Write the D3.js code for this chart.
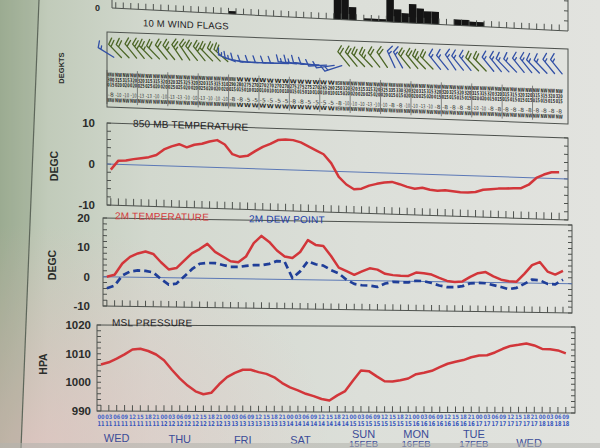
<!DOCTYPE html>
<html><head><meta charset="utf-8">
<script src="https://cdn.jsdelivr.net/npm/d3@7"></script>
<style>body{margin:0;overflow:hidden;background:#dde1da}svg{display:block}</style>
</head><body><svg id="c" width="600" height="448"></svg>
<script>
// ---------------- DATA ----------------
const hours = d3.range(0, 180, 3);           // forecast hours, 3-hourly
const dayNames = ["WED","THU","FRI","SAT","SUN","MON","TUE","WED"];
const dayDates = ["","","","","15FEB","16FEB","17FEB",""];
const dayLabelHours = [6,30,54,76,100,120,142,163];
const startDay = 11;

const precip = [0,0,0,0,0,0,0,0,0,0, 0,0,0,0,0,0.6,0,0,0,0, 0,0,0,0,0,0,0,0,0,6,
                6,2.6,0,0.5,0.5,0.5,6,2.6,1.9,3.8, 3,2.5,2.5,0,0,1.2,1.2,0.9,0.9,0, 0,0,0,0,0,0,0,0,0,0];
const precipTicks = [0];

const windDir = [300,315,315,320,320,315,315,320,320,325,325,320,320,315,315,310,
                 290,280,275,270,270,270,270,270,275,275,275,270,265,260,250,
                 320,320,315,315,320,325,335,330,
                 320,320,315,315,320,320,325,320,320,315,315,320,320,315,315,320,320,315,315,320,320];
const windSpd = [15,20,20,20,25,25,20,20,25,25,20,20,25,20,20,20,
                 15,15,10,10,10,10,10,10,15,15,10,10,10,10,15,
                 20,20,20,25,20,20,15,15,
                 20,20,25,20,15,15,15,15,15,20,20,15,15,15,15,15,15,15,15,15,15];

const t850 = [-1.35,0.9,1.0,1.4,1.7,2.0,2.6,4.0,4.8,5.4, 4.7,5.4,5.7,6.3,6.7,5.7,3.4,2.8,3.1,4.3,
              5.4,6.2,7.2,7.4,7.3,6.8,5.9,5.0,4.1,2.0, -1.3,-3.1,-4.2,-4.0,-3.2,-2.7,-2.3,-2.1,-2.6,-3.2,
              -3.6,-3.3,-3.7,-3.9,-3.7,-3.9,-4.1,-4.1,-3.9,-3.3, -3.1,-2.9,-2.8,-2.7,-2.6,-1.7,0.0,0.9,1.5,1.6];
const t850Ticks = [-10,0,10];

const t2m = [0,0.7,4.6,6.9,8.1,8.8,8.0,5.2,2.8,3.3, 5.9,8.4,9.9,11.7,9.0,7.5,5.9,5.6,7.6,12.2,
             14.7,12.7,9.8,7.8,7.3,9.4,13.5,11.9,11.6,8.2, 4.3,3.1,1.9,3.1,4.2,3.8,2.4,2.0,1.8,1.8,
             3.0,2.8,2.4,1.3,0.3,0.0,0.2,1.8,3.1,3.5, 2.1,1.0,0.5,0.4,3.1,6.1,7.2,4.0,3.0,4.3];
const td2m = [-3.9,-3.0,0.5,1.9,2.3,2.2,1.7,-0.5,-2.4,-2.0, 0.5,3.0,4.9,5.2,5.2,4.6,4.0,4.0,4.4,4.7,
              4.7,5.2,6.2,6.0,0.5,2.8,6.3,5.3,4.9,3.4, 2.3,0.2,-1.2,-1.6,-1.7,-2.1,-0.9,-0.3,-0.4,-0.4,
              0.2,0.1,-0.5,-1.3,-1.8,-1.8,-1.4,-0.4,-0.2,-0.3, -0.9,-1.5,-2.2,-1.7,-0.3,1.2,1.0,-0.2,-0.3,1.3];
const t2mTicks = [-10,0,10,20];

const msl = [1006.2,1007,1008.3,1009.8,1011.5,1011.8,1011,1009.8,1007.8,1004.5,
             1001.5,999,997,996,996.5,999.5,1002,1003.5,1004.6,1004.6,
             1003.8,1003.2,1002,1000,998.5,997.5,996.3,995.5,994.5,994,
             995.8,997.3,1001,1004.5,1004.3,1002.5,1000.8,1000.7,1001.2,1001.8,
             1003.3,1003.8,1004.5,1005.8,1007,1007.7,1008.3,1009.3,1009.9,1010,
             1011,1012.3,1013.3,1013.7,1014.2,1013.5,1012.3,1012.2,1011.8,1010.8];
const mslTicks = [990,1000,1010,1020];

// ---------------- DRAW ----------------
const svg = d3.select("#c");
const defs = svg.append("defs");
const lg = defs.append("linearGradient").attr("id","bg").attr("x1",0).attr("x2",1).attr("y1",0).attr("y2",0);
[[0,"#a9b79f"],[0.08,"#c1cbba"],[0.25,"#d2d8ce"],[0.6,"#dcdfd9"],[1,"#e2e3df"]]
  .forEach(s=>lg.append("stop").attr("offset",s[0]).attr("stop-color",s[1]));
const rg = defs.append("radialGradient").attr("id","pink").attr("cx",0.05).attr("cy",1).attr("r",0.5);
rg.append("stop").attr("offset",0).attr("stop-color","#e8c4c4").attr("stop-opacity",0.7);
rg.append("stop").attr("offset",1).attr("stop-color","#e8c4c4").attr("stop-opacity",0);
svg.append("rect").attr("width",600).attr("height",448).attr("fill","url(#bg)");
svg.append("rect").attr("width",600).attr("height",448).attr("fill","url(#pink)");
svg.append("path").attr("d","M0,0L39,0L21,448L0,448Z").attr("fill","#5a6e4c").attr("opacity",0.16);
svg.append("line").attr("x1",39).attr("y1",0).attr("x2",21).attr("y2",448).attr("stroke","#5d665a").attr("stroke-width",1.2);

const FONT = "'Liberation Sans', Arial, sans-serif";
const COND = "'DejaVu Sans Condensed', 'DejaVu Sans', sans-serif";
const frameCol = "#4e524e";
const red = "#d2363a", zeroCol = "#5b78b6";
const domainT = [-1.5, 180.5];

function makePanel(p){
  const ang = Math.atan(p.tilt / p.w) * 180 / Math.PI;
  const g = svg.append("g").attr("transform", `translate(${p.x},${p.y}) skewY(${ang})`);
  const x = d3.scaleLinear().domain(domainT).range([0, p.w]);
  return {g, x, p};
}
function timeTicks(P, y0, len){
  P.g.append("g").selectAll("line").data(hours).join("line")
    .attr("x1", d=>P.x(d)).attr("x2", d=>P.x(d))
    .attr("y1", y0).attr("y2", y0-len)
    .attr("stroke", frameCol).attr("stroke-width",1);
}
function frame(P){
  P.g.append("rect").attr("width",P.p.w).attr("height",P.p.h)
    .attr("fill","none").attr("stroke",frameCol).attr("stroke-width",1);
}
function sideTicks(P, y, step){
  const [a,b] = y.domain();
  const vals = d3.range(a, b+1e-6, step);
  const gg = P.g.append("g");
  gg.selectAll("l1").data(vals).join("line").attr("x1",0).attr("x2",4)
    .attr("y1",d=>y(d)).attr("y2",d=>y(d)).attr("stroke",frameCol);
  gg.selectAll("l2").data(vals).join("line").attr("x1",P.p.w).attr("x2",P.p.w-4)
    .attr("y1",d=>y(d)).attr("y2",d=>y(d)).attr("stroke",frameCol);
}
function yLabels(P, y, ticks, xr, fs){
  svg.append("g").selectAll("text").data(ticks).join("text")
    .attr("x", xr).attr("y", d=>P.p.y + y(d)).attr("dy","0.35em")
    .attr("text-anchor","end").attr("font-family",FONT).attr("font-weight","bold")
    .attr("font-size",fs).attr("fill","#2b2d2b").text(d=>d);
}
function vTitle(txt, x, y, fs){
  svg.append("text").attr("transform",`translate(${x},${y}) rotate(-90)`)
    .attr("text-anchor","middle").attr("dy","0.35em").attr("font-family",FONT)
    .attr("font-weight","bold").attr("font-size",fs).attr("fill","#2b2d2b").text(txt);
}
function title(P, txt, x, y, col, fs){
  P.g.append("text").attr("x",x).attr("y",y).attr("font-family",FONT)
    .attr("font-size",fs).attr("fill",col).attr("letter-spacing",0.2).text(txt);
}
function cellRow(g, P, y, fs, weight, col, fn, w){
  g.append("g").selectAll("text").data(hours).join("text")
    .attr("x", d=>P.x(d)-w/2).attr("y", y)
    .attr("font-family",COND).attr("font-size",fs).attr("font-weight",weight)
    .attr("textLength", w).attr("lengthAdjust","spacingAndGlyphs")
    .attr("fill", col).text((d,i)=>fn(d,i));
}

// ---- Panel A: precipitation bars (top, mostly off-page)
const A = makePanel({x:112, y:8, w:456, h:40, tilt:23});
const yA = d3.scaleLinear().domain([0, 8]).range([0, -40]);
A.g.append("g").selectAll("rect").data(hours.map((h,i)=>({h, v:precip[i]})).filter(d=>d.v>0)).join("rect")
  .attr("x", d=>A.x(d.h)).attr("width", d=>A.x(d.h+3)-A.x(d.h))
  .attr("y", d=>yA(d.v)).attr("height", d=>-yA(d.v)).attr("fill","#141414");
A.g.append("line").attr("x1",0).attr("x2",A.p.w).attr("y1",0).attr("y2",0).attr("stroke",frameCol);
A.g.append("line").attr("x1",A.p.w).attr("x2",A.p.w).attr("y1",0).attr("y2",-40).attr("stroke",frameCol);
A.g.append("line").attr("x1",0).attr("x2",0).attr("y1",0).attr("y2",-40).attr("stroke",frameCol);
timeTicks(A, 0, 6);
A.g.selectAll("rt").data([2,4,6]).join("line").attr("x1",A.p.w).attr("x2",A.p.w-4)
  .attr("y1",d=>yA(d)).attr("y2",d=>yA(d)).attr("stroke",frameCol);
svg.append("text").attr("x",100).attr("y",8).attr("dy","0.35em").attr("text-anchor","end")
  .attr("font-family",FONT).attr("font-weight","bold").attr("font-size",9).attr("fill","#2b2d2b").text(precipTicks[0]);

// ---- Panel B: wind flags
const B = makePanel({x:107, y:32, w:461, h:75, tilt:17});
frame(B);
title(B, "10 M  WIND FLAGS", 36, -7, "#1e201e", 9.5);
vTitle("DEGKTS", 61, 68, 7.5);
function compass(d){ const n=["N","NNE","NE","ENE","E","ESE","SE","SSE","S","SSW","SW","WSW","W","WNW","NW","NNW"]; return n[Math.round(d/22.5)%16]; }
const green = "#4c6626", barbBlue = "#3250a6";
hours.forEach((h,i)=>{
  const x0 = B.x(h)+3, y0 = 25, L = 18;
  const r = windDir[i]*Math.PI/180, ux = Math.sin(r), uy = -Math.cos(r);
  const tx = x0+ux*L, ty = y0+uy*L;
  const th = 70*Math.PI/180;
  const fx = ux*Math.cos(th)-uy*Math.sin(th), fy = ux*Math.sin(th)+uy*Math.cos(th);
  let d = `M${x0},${y0}L${tx},${ty}`;
  const n10 = Math.floor(windSpd[i]/10), n5 = Math.round((windSpd[i]%10)/5);
  let pos = 0;
  for(let k=0;k<n10;k++){ d += `M${tx-ux*pos},${ty-uy*pos}l${fx*7},${fy*7}`; pos += 3.2; }
  if(n5){ d += `M${tx-ux*pos},${ty-uy*pos}l${fx*3.6},${fy*3.6}`; }
  B.g.append("path").attr("d",d).attr("fill","none").attr("stroke-linecap","round")
    .attr("stroke", windSpd[i]>=20 ? green : barbBlue).attr("stroke-width",1.3);
});
const gB = B.g.append("g");
cellRow(gB, B, 44.5, 5.6, "bold", "#262826", (d,i)=>compass(windDir[i]), 7);
cellRow(gB, B, 49.5, 5.6, "bold", "#262826", (d,i)=>String(windDir[i]), 7);
cellRow(gB, B, 54.5, 5.6, "bold", "#262826", (d,i)=>String(windSpd[i]).padStart(3,"0"), 7);
cellRow(gB, B, 64.5, 5.4, "normal", "#3a3c3a", (d,i)=>"-"+Math.round(windSpd[i]*0.514), 6);
cellRow(gB, B, 70, 5.6, "bold", "#2c2e2c", (d,i)=>compass(windDir[i]), 7);
B.g.append("g").selectAll("line").data(hours.filter(h=>h%12===0)).join("line")
  .attr("x1",d=>B.x(d)-3.8).attr("x2",d=>B.x(d)-3.8).attr("y1",38).attr("y2",72)
  .attr("stroke","#444").attr("stroke-width",0.6);

// ---- Panel C: 850 MB temperature
const C = makePanel({x:107, y:123, w:461, h:82, tilt:15});
const yC = d3.scaleLinear().domain([-10,10]).range([C.p.h, 0]);
frame(C); sideTicks(C, yC, 2); timeTicks(C, C.p.h, 7);
C.g.append("line").attr("x1",0).attr("x2",C.p.w).attr("y1",yC(0)).attr("y2",yC(0)).attr("stroke",zeroCol).attr("stroke-width",1);
C.g.append("path").datum(t850).attr("fill","none").attr("stroke",red).attr("stroke-width",2.5)
  .attr("stroke-linejoin","round")
  .attr("d", d3.line().x((d,i)=>C.x(hours[i])).y(d=>yC(d)));
title(C, "850 MB  TEMPERATURE", 26, 3, "#1e201e", 10);
yLabels(C, yC, t850Ticks, 95, 11.5);
vTitle("DEGC", 54, 166, 10.5);

// ---- Panel D: 2m temperature & dew point
const D = makePanel({x:103, y:218, w:469, h:88, tilt:7});
const yD = d3.scaleLinear().domain([-10,20]).range([D.p.h, 0]);
frame(D); sideTicks(D, yD, 2); timeTicks(D, D.p.h, 6);
D.g.append("line").attr("x1",0).attr("x2",D.p.w).attr("y1",yD(0)).attr("y2",yD(0)).attr("stroke",zeroCol).attr("stroke-width",1);
D.g.append("path").datum(td2m).attr("fill","none").attr("stroke","#1f3e98").attr("stroke-width",2.7)
  .attr("stroke-dasharray","7,4").attr("stroke-linejoin","round")
  .attr("d", d3.line().x((d,i)=>D.x(hours[i])).y(d=>yD(d)));
D.g.append("path").datum(t2m).attr("fill","none").attr("stroke",red).attr("stroke-width",2.5)
  .attr("stroke-linejoin","round")
  .attr("d", d3.line().x((d,i)=>D.x(hours[i])).y(d=>yD(d)));
title(D, "2M TEMPERATURE", 12, 1, "#d23a3c", 10);
title(D, "2M  DEW POINT", 146, 2, "#2140a8", 10);
yLabels(D, yD, t2mTicks, 90, 11.5);
vTitle("DEGC", 52, 265, 10.5);

// ---- Panel E: MSL pressure
const E = makePanel({x:97, y:325, w:478, h:86, tilt:2});
const yE = d3.scaleLinear().domain([990,1020]).range([E.p.h, 0]);
frame(E); sideTicks(E, yE, 2); timeTicks(E, E.p.h, 6);
E.g.append("path").datum(msl).attr("fill","none").attr("stroke",red).attr("stroke-width",2.5)
  .attr("stroke-linejoin","round")
  .attr("d", d3.line().x((d,i)=>E.x(hours[i])).y(d=>yE(d)));
title(E, "MSL PRESSURE", 15, 1, "#1e201e", 10);
yLabels(E, yE, mslTicks, 91, 11.5);
vTitle("HPA", 43, 364, 10.5);

// ---- time labels under panel E
const pad2 = n => String(n).padStart(2,"0");
const bt = svg.append("g").attr("transform",`translate(${E.p.x},0)`);
const Eflat = {x:E.x};
cellRow(bt, Eflat, 418.5, 6, "bold", "#4866c8", d=>pad2(d%24), 7);
cellRow(bt, Eflat, 425.5, 6.6, "bold", "#3656bc", d=>pad2(startDay+Math.floor(d/24)), 7);
const dl = svg.append("g");
dayNames.forEach((n,i)=>{
  const x = E.p.x + E.x(dayLabelHours[i]);
  const two = !!dayDates[i];
  const y0 = two ? 437.5 : 442 + (x-100)*0.012;
  dl.append("text").attr("x",x).attr("y",y0).attr("text-anchor","middle")
    .attr("font-family",FONT).attr("font-size",11).attr("fill","#3b4c98").text(n);
  if(two) dl.append("text").attr("x",x).attr("y",y0+9.5).attr("text-anchor","middle")
    .attr("font-family",FONT).attr("font-size",9.5).attr("fill","#3b4c98").text(dayDates[i]);
});
// bottom edge of the photographed screen
svg.append("rect").attr("x",0).attr("y",443).attr("width",600).attr("height",5).attr("fill","#b3b2ad").attr("opacity",0.55);
</script></body></html>
